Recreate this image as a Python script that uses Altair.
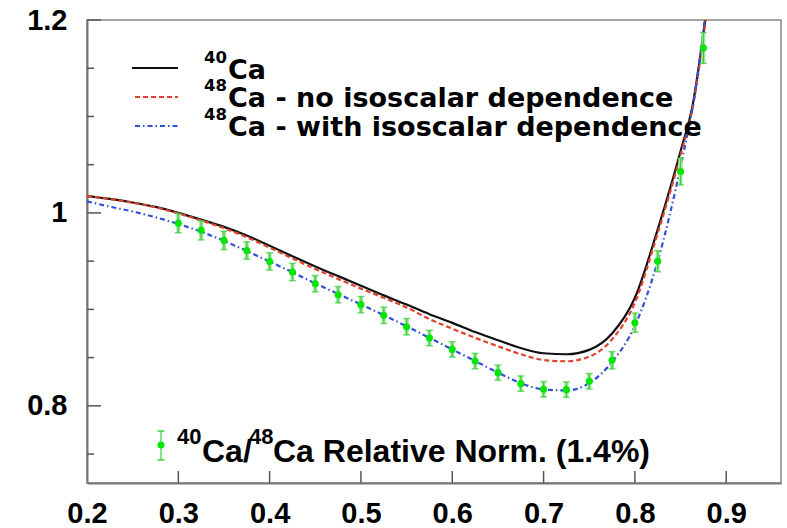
import altair as alt
import pandas as pd

# ---- curves -------------------------------------------------------------
ca40_x = [0.2, 0.225, 0.25, 0.275, 0.3, 0.325, 0.35, 0.375, 0.4, 0.425, 0.45,
          0.475, 0.5, 0.525, 0.55, 0.575, 0.6, 0.625, 0.65, 0.675, 0.7, 0.725,
          0.75, 0.775, 0.8, 0.825, 0.85, 0.8635, 0.877]
ca40_y = [1.0175, 1.0145, 1.0108, 1.0062, 1.0000, 0.9930, 0.9855, 0.9765,
          0.9660, 0.9550, 0.9445, 0.9345, 0.9245, 0.9145, 0.9050, 0.8950,
          0.8860, 0.8765, 0.8680, 0.8600, 0.8545, 0.8535, 0.8580, 0.8750,
          0.9120, 0.9830, 1.0640, 1.1130, 1.2000]

ca48_noiso_x = [0.2, 0.225, 0.25, 0.275, 0.3, 0.325, 0.35, 0.375, 0.4, 0.425,
                0.45, 0.475, 0.5, 0.525, 0.55, 0.575, 0.6, 0.625, 0.65, 0.675,
                0.7, 0.725, 0.75, 0.775, 0.8, 0.825, 0.85, 0.8635, 0.8775]
ca48_noiso_y = [1.0175, 1.0145, 1.0105, 1.0058, 0.9995, 0.9922, 0.9842, 0.9748,
                0.9640, 0.9528, 0.9418, 0.9315, 0.9215, 0.9120, 0.9020, 0.8900,
                0.8800, 0.8705, 0.8618, 0.8535, 0.8475, 0.8462, 0.8510, 0.8690,
                0.9070, 0.9790, 1.0600, 1.1100, 1.2000]

ca48_iso_x = [0.2, 0.225, 0.25, 0.275, 0.3, 0.325, 0.35, 0.375, 0.4, 0.425,
              0.45, 0.475, 0.5, 0.525, 0.55, 0.575, 0.6, 0.625, 0.65, 0.675,
              0.7, 0.725, 0.75, 0.775, 0.8, 0.825, 0.85, 0.865, 0.8765]
ca48_iso_y = [1.0120, 1.0065, 1.0015, 0.9955, 0.9885, 0.9805, 0.9710, 0.9605,
              0.9495, 0.9385, 0.9270, 0.9160, 0.9050, 0.8940, 0.8825, 0.8705,
              0.8585, 0.8465, 0.8345, 0.8235, 0.8170, 0.8160, 0.8235, 0.8455,
              0.8830, 0.9500, 1.0480, 1.1200, 1.2000]

# ---- measured ratio ------------------------------------------------------
ratio_x = [0.3, 0.325, 0.35, 0.375, 0.4, 0.425, 0.45, 0.475, 0.5, 0.525, 0.55,
           0.575, 0.6, 0.625, 0.65, 0.675, 0.7, 0.725, 0.75, 0.775, 0.8, 0.825,
           0.85, 0.875]
ratio_y = [0.9894, 0.9820, 0.9715, 0.9610, 0.9497, 0.9387, 0.9266, 0.9152,
           0.9049, 0.8938, 0.8820, 0.8703, 0.8585, 0.8464, 0.8344, 0.8230,
           0.8171, 0.8168, 0.8254, 0.8472, 0.8862, 0.9500, 1.0430, 1.1710]
ratio_err = [0.010, 0.010, 0.0095, 0.009, 0.009, 0.009, 0.0085, 0.0085, 0.0085,
             0.0085, 0.0085, 0.008, 0.008, 0.008, 0.008, 0.008, 0.008, 0.008,
             0.008, 0.009, 0.010, 0.011, 0.014, 0.016]

# ---- axes ----------------------------------------------------------------
x_major = [0.2, 0.3, 0.4, 0.5, 0.6, 0.7, 0.8, 0.9]
y_major = [0.8, 1.0, 1.2]
y_minor = [0.75, 0.85, 0.9, 0.95, 1.05, 1.1, 1.15]

legend_top = ["Ca", "Ca - no isoscalar dependence", "Ca - with isoscalar dependence"]
legend_top_sup = ["40", "48", "48"]
legend_bottom = ["Ca/", "Ca Relative Norm. (1.4%)"]
legend_bottom_sup = ["40", "48"]

W, H = 694, 463
FONT = "Liberation Sans"
KEY_FONT = "DejaVu Sans"

xs = alt.Scale(domain=[0.2, 0.96], nice=False, zero=False)
ys = alt.Scale(domain=[0.72, 1.2], nice=False, zero=False)

curves = pd.DataFrame({"x": ca40_x, "y": ca40_y})
noiso = pd.DataFrame({"x": ca48_noiso_x, "y": ca48_noiso_y})
iso = pd.DataFrame({"x": ca48_iso_x, "y": ca48_iso_y})
pts = pd.DataFrame({"x": ratio_x, "y": ratio_y, "e": ratio_err})
pts["lo"] = pts["y"] - pts["e"]
pts["hi"] = pts["y"] + pts["e"]

X = alt.X("x:Q", scale=xs, axis=alt.Axis(
    values=x_major, format=".1f", title=None, ticks=False, grid=False,
    labelFont=FONT, labelFontWeight="bold", labelFontSize=29,
    labelColor="black", labelPadding=16, domainColor="#777",
    domainWidth=2, labelFlush=False))
Y = alt.Y("y:Q", scale=ys, axis=alt.Axis(
    values=y_major, format=".1~f", title=None, ticks=False, grid=False,
    labelFont=FONT, labelFontWeight="bold", labelFontSize=29,
    labelColor="black", labelPadding=20, domainColor="#777",
    domainWidth=2, labelFlush=False))

base_axes = alt.Chart(curves).mark_line(opacity=0).encode(x=X, y=Y)


def line(df, color, dash=None, width=2.0):
    kw = dict(color=color, strokeWidth=width, interpolate="monotone", clip=True)
    if dash:
        kw["strokeDash"] = dash
    return alt.Chart(df).mark_line(**kw).encode(
        x=alt.X("x:Q", scale=xs), y=alt.Y("y:Q", scale=ys))


black = line(curves, "#111111", width=2.2)
red = line(noiso, "#e0432d", dash=[5, 3], width=2.2)
blue = line(iso, "#3050d8", dash=[5, 3, 1.5, 3], width=2.2)

err_band = alt.Chart(pts).mark_rule(color="#9be89b", strokeWidth=4).encode(
    x=alt.X("x:Q", scale=xs), y=alt.Y("lo:Q", scale=ys), y2="hi:Q")
err_line = alt.Chart(pts).mark_rule(color="#3ccc3c", strokeWidth=1.2).encode(
    x=alt.X("x:Q", scale=xs), y=alt.Y("lo:Q", scale=ys), y2="hi:Q")
cap_lo = alt.Chart(pts).mark_tick(color="#3ccc3c", orient="horizontal",
                                  size=7, thickness=1.5).encode(
    x=alt.X("x:Q", scale=xs), y=alt.Y("lo:Q", scale=ys))
cap_hi = alt.Chart(pts).mark_tick(color="#3ccc3c", orient="horizontal",
                                  size=7, thickness=1.5).encode(
    x=alt.X("x:Q", scale=xs), y=alt.Y("hi:Q", scale=ys))
dots = alt.Chart(pts).mark_point(filled=True, color="#00e600", opacity=1,
                                 size=50).encode(
    x=alt.X("x:Q", scale=xs), y=alt.Y("y:Q", scale=ys))

# inward tick marks
ymaj = alt.Chart(pd.DataFrame({"y": y_major})).mark_rule(
    color="#555", strokeWidth=1.5).encode(
    y=alt.Y("y:Q", scale=ys), x=alt.value(0), x2=alt.value(14))
ymin = alt.Chart(pd.DataFrame({"y": y_minor})).mark_rule(
    color="#555", strokeWidth=1.5).encode(
    y=alt.Y("y:Q", scale=ys), x=alt.value(0), x2=alt.value(7))
xmaj = alt.Chart(pd.DataFrame({"x": x_major[1:]})).mark_rule(
    color="#555", strokeWidth=1.5).encode(
    x=alt.X("x:Q", scale=xs), y=alt.value(H), y2=alt.value(H - 12))


def label(text, x, y, size, font=FONT):
    return alt.Chart(pd.DataFrame({"t": [text]})).mark_text(
        font=font, fontWeight="bold", fontSize=size, color="black",
        align="left", baseline="alphabetic").encode(
        text="t:N", x=alt.value(x), y=alt.value(y))


def key_line(color, y, x0, dash=None):
    kw = dict(color=color, strokeWidth=2.2)
    if dash:
        kw["strokeDash"] = dash
    return alt.Chart(pd.DataFrame({"k": [0]})).mark_rule(**kw).encode(
        x=alt.value(x0), x2=alt.value(91), y=alt.value(y))


top_rows = [59, 87, 116]
legend_layers = [
    key_line("#111111", 48, 45),
    key_line("#e0432d", 77, 48, [5, 3]),
    key_line("#3050d8", 106, 48, [5, 3, 1.5, 3]),
]
for sup, txt, yb in zip(legend_top_sup, legend_top, top_rows):
    legend_layers.append(label(sup, 117, yb - 16, 16.5, KEY_FONT))
    legend_layers.append(label(txt, 141, yb, 27, KEY_FONT))

# bottom key: marker with error bar, then the text
kb = pd.DataFrame({"k": [0]})
legend_layers += [
    alt.Chart(kb).mark_rule(color="#3ccc3c", strokeWidth=1.2).encode(
        x=alt.value(74), y=alt.value(411), y2=alt.value(440)),
    alt.Chart(kb).mark_rule(color="#3ccc3c", strokeWidth=1.5).encode(
        x=alt.value(70.5), x2=alt.value(77.5), y=alt.value(411)),
    alt.Chart(kb).mark_rule(color="#3ccc3c", strokeWidth=1.5).encode(
        x=alt.value(70.5), x2=alt.value(77.5), y=alt.value(440)),
    alt.Chart(kb).mark_point(filled=True, color="#00e600", opacity=1,
                             size=50).encode(x=alt.value(74), y=alt.value(425)),
    label(legend_bottom_sup[0], 90, 424, 22),
    label(legend_bottom[0], 115, 442, 32),
    label(legend_bottom_sup[1], 162, 424, 22),
    label(legend_bottom[1], 186, 442, 32),
]

chart = alt.layer(
    base_axes, ymaj, ymin, xmaj, black, red, blue,
    err_band, err_line, cap_lo, cap_hi, dots, *legend_layers
).properties(
    width=W, height=H, autosize="none",
    padding={"left": 87, "top": 20, "right": 6, "bottom": 45},
    background="white",
).configure_view(stroke="#888", strokeWidth=1.5)

chart.save("out.html", embed_options={"renderer": "svg", "actions": False})
